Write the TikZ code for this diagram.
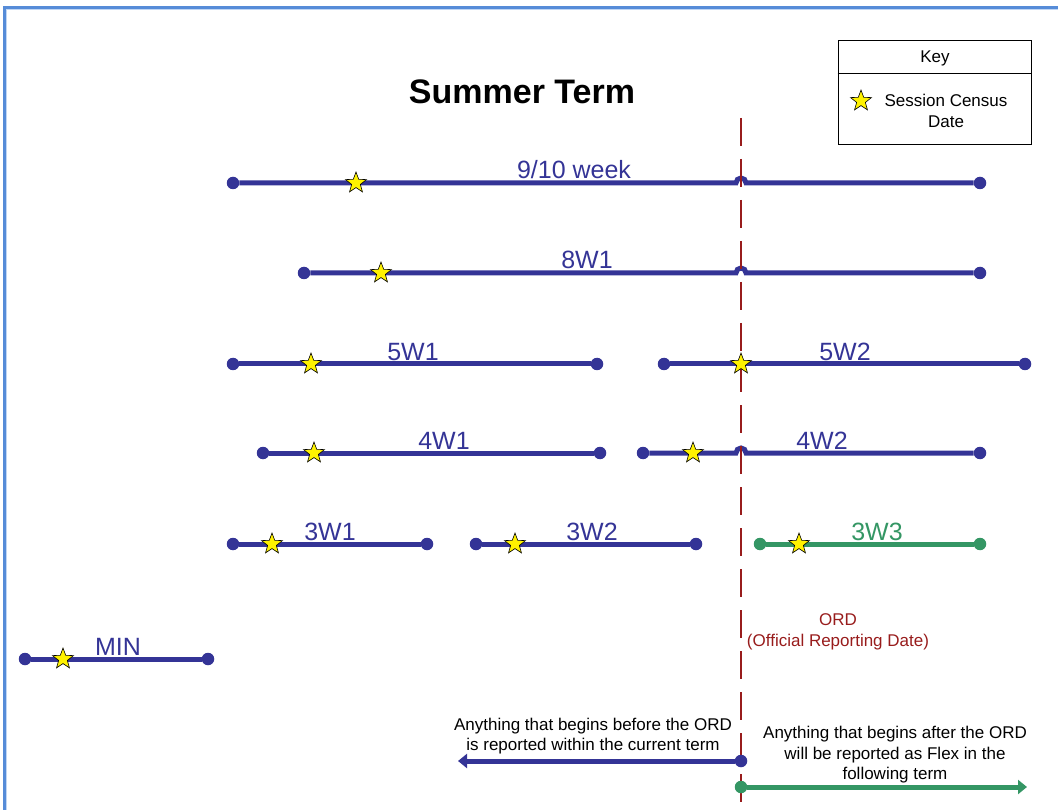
\documentclass[tikz,border=0pt]{standalone}
\usepackage{fontspec}
\setmainfont{Liberation Sans}
\usetikzlibrary{shapes.geometric,arrows.meta}
\definecolor{termblue}{RGB}{52,52,150}
\definecolor{termgreen}{RGB}{52,150,100}
\definecolor{ordred}{RGB}{152,28,28}
\definecolor{frameblue}{RGB}{86,140,216}
\definecolor{framelight}{RGB}{192,214,244}
\pgfdeclarelayer{bg}
\pgfsetlayers{bg,main}
\begin{document}
\begin{tikzpicture}[x=1pt,y=-1pt,
  seg/.style={line width=5pt, draw=termblue},
  greenseg/.style={line width=5pt, draw=termgreen},
  enddot/.style={circle, fill=termblue, inner sep=0pt, minimum size=12.5pt},
  greendot/.style={circle, fill=termgreen, inner sep=0pt, minimum size=12.5pt},
  census/.style={star, star points=5, star point ratio=2.4, fill=yellow,
    draw=black, line width=0.6pt, inner sep=0pt, minimum size=22pt},
  lbl/.style={text=termblue, font=\fontsize{25}{29}\selectfont, inner sep=0pt, anchor=base},
  greenlbl/.style={lbl, text=termgreen},
  note/.style={font=\fontsize{17}{20.5}\selectfont, align=center, inner sep=0pt},
  ordline/.style={draw=ordred, line width=2.5pt, dash pattern=on 28pt off 13pt},
]
\useasboundingbox (0,0) rectangle (1058,810);

% page frame (top and left edges)
\draw[framelight, line width=1.2pt] (6.6,810) -- (6.6,9.6) -- (1058,9.6);
\draw[frameblue, line width=3.2pt] (4.5,810) -- (4.5,7.5) -- (1058,7.5);

% title
\node[font=\fontsize{34}{40}\selectfont\bfseries, anchor=base, inner sep=0pt] (title) at (522,104) {Summer Term};

% key
\node[draw=black, line width=1pt, minimum width=193pt, minimum height=104pt, inner sep=0pt] (key) at (934.5,93) {};
\draw[line width=1pt] (key.west |- 0,74) -- (key.east |- 0,74);
\node[font=\fontsize{17}{20}\selectfont, anchor=base, inner sep=0pt] (keytitle) at (935,63) {Key};
\node[census] (keystar) at (861,101) {};
\node[note] (keytext) at (946,111) {Session Census\\Date};

% session end points
\node[enddot] (w9a) at (233,183) {};   \node[enddot] (w9b) at (980,183) {};
\node[enddot] (w8a) at (304,273) {};   \node[enddot] (w8b) at (980,273) {};
\node[enddot] (f1a) at (233,364) {};   \node[enddot] (f1b) at (597,364) {};
\node[enddot] (f2a) at (664,364) {};   \node[enddot] (f2b) at (1025,364) {};
\node[enddot] (q1a) at (263,453) {};   \node[enddot] (q1b) at (600,453) {};
\node[enddot] (q2a) at (643,453) {};   \node[enddot] (q2b) at (980,453) {};
\node[enddot] (t1a) at (233,544) {};   \node[enddot] (t1b) at (427,544) {};
\node[enddot] (t2a) at (476,544) {};   \node[enddot] (t2b) at (696,544) {};
\node[greendot] (t3a) at (760,544) {}; \node[greendot] (t3b) at (980,544) {};
\node[enddot] (mna) at (25,659) {};    \node[enddot] (mnb) at (208,659) {};

% reporting-date markers
\coordinate (ordtop) at (741,118);
\coordinate (ordbot) at (741,812);
\node[enddot] (before) at (741,761) {};
\coordinate (beforetip) at (458,761);
\node[greendot] (after) at (741,787) {};
\coordinate (aftertip) at (1027,787);

\begin{pgfonlayer}{bg}
  \draw[seg] (w9a) -- (736,183) arc[start angle=180, end angle=360, radius=5] -- (w9b);
  \draw[seg] (w8a) -- (736,273) arc[start angle=180, end angle=360, radius=5] -- (w8b);
  \draw[seg] (f1a) -- (f1b);
  \draw[seg] (f2a) -- (f2b);
  \draw[seg] (q1a) -- (q1b);
  \draw[seg] (q2a) -- (736,453) arc[start angle=180, end angle=360, radius=5] -- (q2b);
  \draw[seg] (t1a) -- (t1b);
  \draw[seg] (t2a) -- (t2b);
  \draw[greenseg] (t3a) -- (t3b);
  \draw[seg] (mna) -- (mnb);
  \draw[seg, -{Triangle[length=9pt, width=14pt]}] (before) -- (beforetip);
  \draw[greenseg, -{Triangle[length=9pt, width=14pt]}] (after) -- (aftertip);
  \draw[ordline] (ordtop) -- (ordbot);
\end{pgfonlayer}

% census dates
\node[census] (s9)  at (356,183) {};
\node[census] (s8)  at (381,273) {};
\node[census] (sf1) at (311,364) {};
\node[census] (sf2) at (741,364) {};
\node[census] (sq1) at (314,453) {};
\node[census] (sq2) at (693,453) {};
\node[census] (st1) at (272,544) {};
\node[census] (st2) at (515,544) {};
\node[census] (st3) at (799,544) {};
\node[census] (smn) at (63,659) {};

% session labels
\node[lbl] (l9)  at (574,179) {9/10 week};
\node[lbl] (l8)  at (587,269) {8W1};
\node[lbl] (lf1) at (413,360) {5W1};
\node[lbl] (lf2) at (845,360) {5W2};
\node[lbl] (lq1) at (444,449) {4W1};
\node[lbl] (lq2) at (822,449) {4W2};
\node[lbl] (lt1) at (330,540) {3W1};
\node[lbl] (lt2) at (592,540) {3W2};
\node[greenlbl] (lt3) at (877,540) {3W3};
\node[lbl] (lmn) at (118,655) {MIN};

% reporting-date notes
\node[note, text=ordred] (ordlbl) at (838,632) {ORD\\(Official Reporting Date)};
\node[note] (beforetxt) at (593,736) {Anything that begins before the ORD\\is reported within the current term};
\node[note] (aftertxt) at (895,755) {Anything that begins after the ORD\\will be reported as Flex in the\\following term};
\end{tikzpicture}
\end{document}
